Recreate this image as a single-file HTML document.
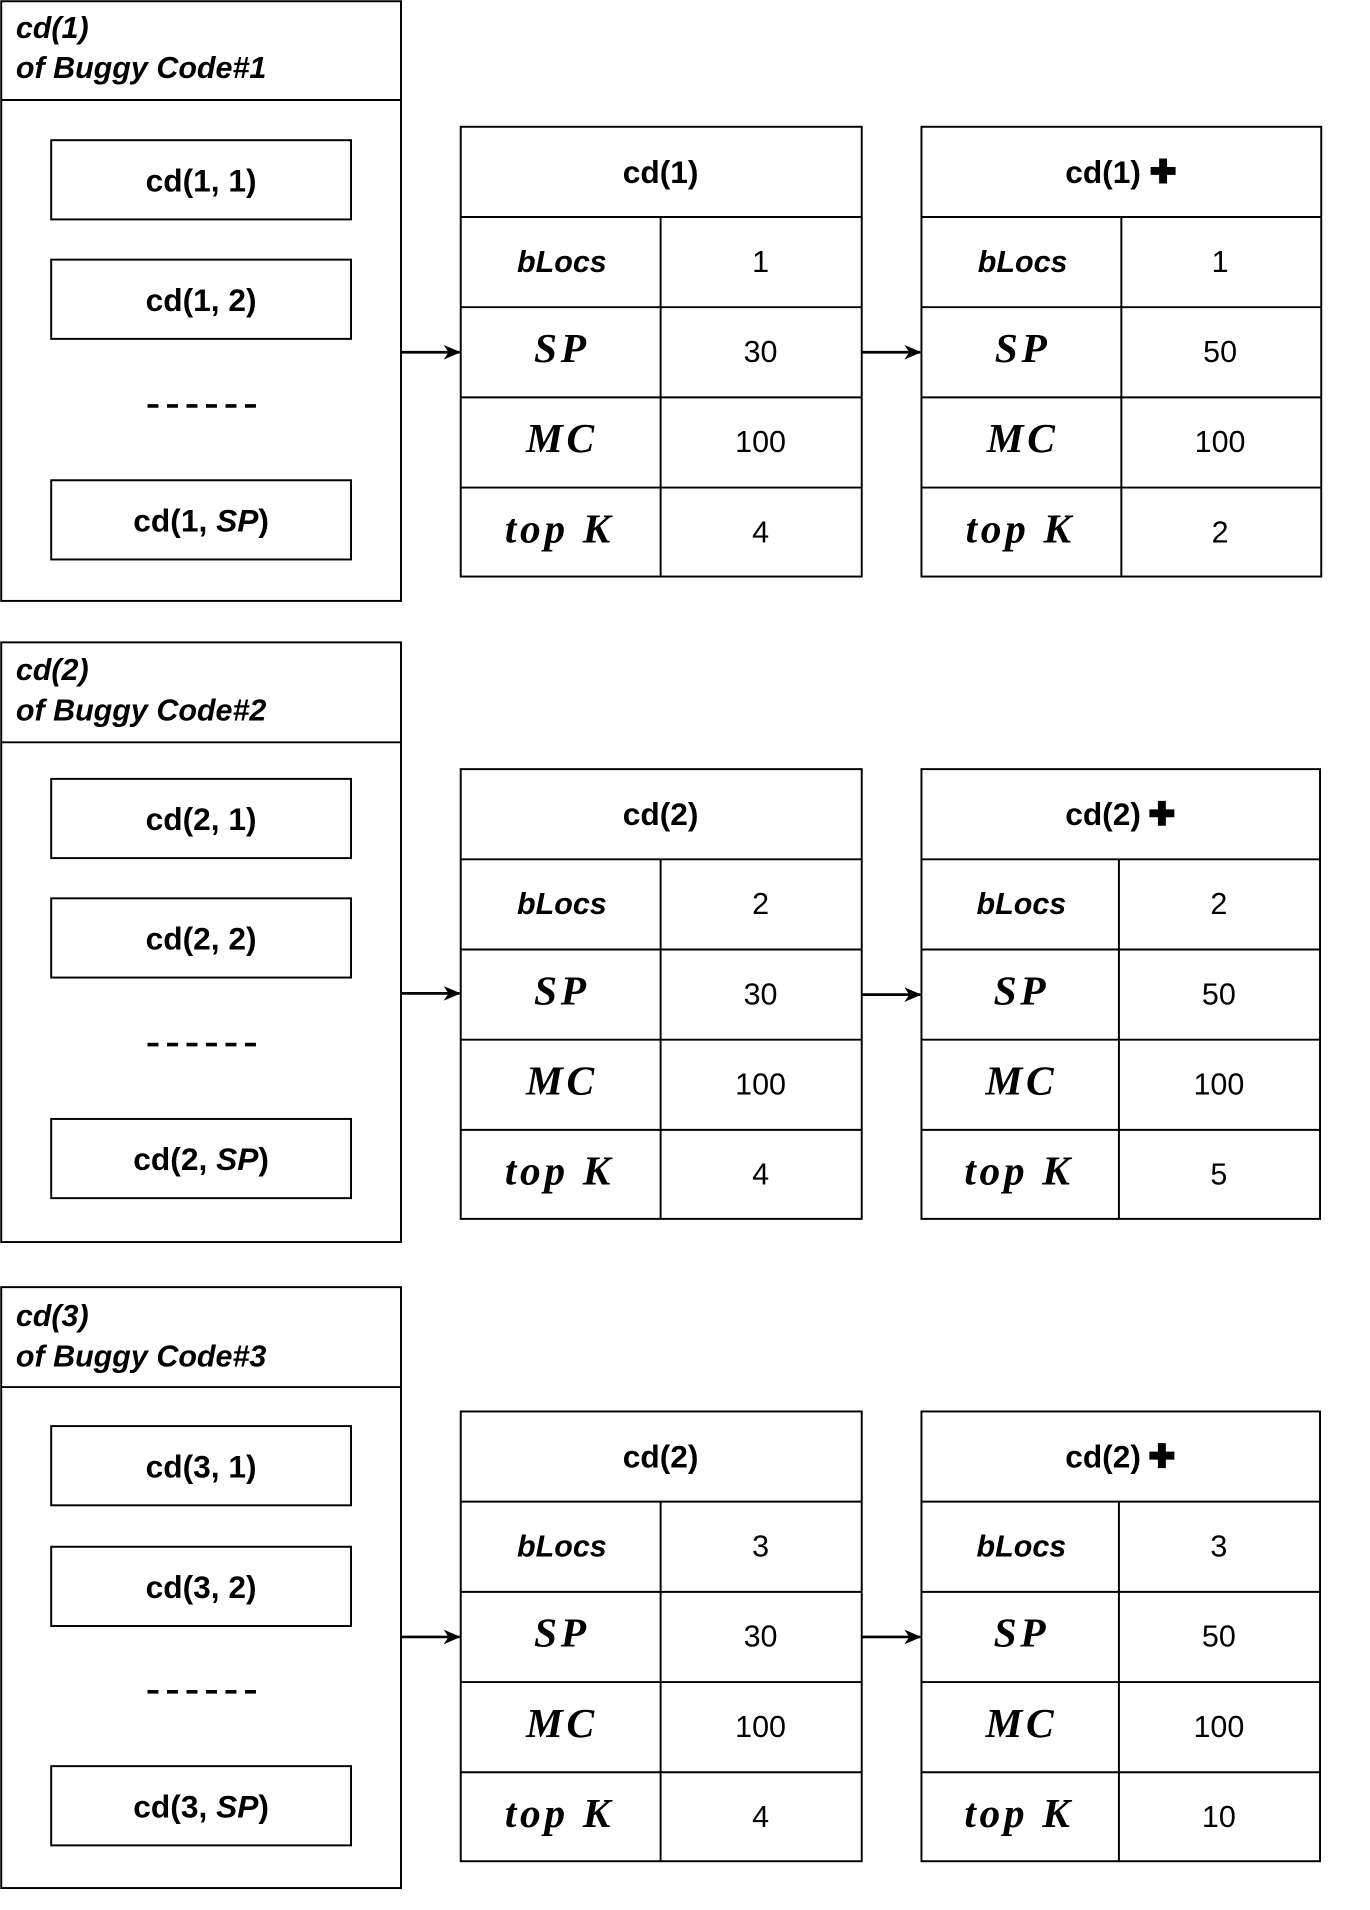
<!DOCTYPE html>
<html><head><meta charset="utf-8"><style>
html,body{margin:0;padding:0;background:#fff;}
svg{display:block;}
.b{font-family:"Liberation Sans",sans-serif;font-weight:bold;font-size:26px;}
.bi{font-family:"Liberation Sans",sans-serif;font-weight:bold;font-style:italic;font-size:25px;}
.r{font-family:"Liberation Sans",sans-serif;font-size:25px;}
.m{font-family:"Liberation Serif",serif;font-weight:bold;font-style:italic;font-size:34px;letter-spacing:3px;}
</style></head><body>
<svg width="1370" height="1910" viewBox="0 0 1124 1567" xmlns="http://www.w3.org/2000/svg">
<defs>
<marker id="a" markerWidth="14" markerHeight="12" refX="13" refY="6" orient="auto" markerUnits="userSpaceOnUse">
<path d="M0,0 L14,6 L0,12 L4,6 Z" fill="#000"/>
</marker>
</defs>
<g fill="none" stroke="#000" stroke-width="1.6">
<rect x="1" y="1" width="328" height="492"/><line x1="1" y1="82" x2="329" y2="82"/>
<rect x="42" y="115" width="246" height="65"/><rect x="42" y="213" width="246" height="65"/><rect x="42" y="394" width="246" height="65"/>
<rect x="1" y="527" width="328" height="492"/><line x1="1" y1="609" x2="329" y2="609"/>
<rect x="42" y="639" width="246" height="65"/><rect x="42" y="737" width="246" height="65"/><rect x="42" y="918" width="246" height="65"/>
<rect x="1" y="1056" width="328" height="493"/><line x1="1" y1="1138" x2="329" y2="1138"/>
<rect x="42" y="1170" width="246" height="65"/><rect x="42" y="1269" width="246" height="65"/><rect x="42" y="1449" width="246" height="65"/>
<rect x="378" y="104" width="329" height="369"/>
<path d="M378 178H707M378 252H707M378 326H707M378 400H707M542 178V473"/>
<rect x="756" y="104" width="328" height="369"/>
<path d="M756 178H1084M756 252H1084M756 326H1084M756 400H1084M920 178V473"/>
<rect x="378" y="631" width="329" height="369"/>
<path d="M378 705H707M378 779H707M378 853H707M378 927H707M542 705V1000"/>
<rect x="756" y="631" width="327" height="369"/>
<path d="M756 705H1083M756 779H1083M756 853H1083M756 927H1083M918 705V1000"/>
<rect x="378" y="1158" width="329" height="369"/>
<path d="M378 1232H707M378 1306H707M378 1380H707M378 1454H707M542 1232V1527"/>
<rect x="756" y="1158" width="327" height="369"/>
<path d="M756 1232H1083M756 1306H1083M756 1380H1083M756 1454H1083M918 1232V1527"/>
<g stroke-width="2.2">
<line x1="329" y1="289" x2="377" y2="289" marker-end="url(#a)"/>
<line x1="707" y1="289" x2="755" y2="289" marker-end="url(#a)"/>
<line x1="329" y1="815" x2="377" y2="815" marker-end="url(#a)"/>
<line x1="707" y1="816" x2="755" y2="816" marker-end="url(#a)"/>
<line x1="329" y1="1343" x2="377" y2="1343" marker-end="url(#a)"/>
<line x1="707" y1="1343" x2="755" y2="1343" marker-end="url(#a)"/>
</g>
</g>
<g fill="#000">
<text class="bi" x="13" y="31">cd(1)</text><text class="bi" x="13" y="64">of Buggy Code#1</text>
<text class="bi" x="13" y="558">cd(2)</text><text class="bi" x="13" y="591">of Buggy Code#2</text>
<text class="bi" x="13" y="1088">cd(3)</text><text class="bi" x="13" y="1121">of Buggy Code#3</text>
<g class="b" text-anchor="middle">
<text x="165" y="157">cd(1, 1)</text><text x="165" y="255">cd(1, 2)</text><text x="165" y="436">cd(1, <tspan font-style="italic">SP</tspan>)</text>
<text x="165" y="681">cd(2, 1)</text><text x="165" y="779">cd(2, 2)</text><text x="165" y="960">cd(2, <tspan font-style="italic">SP</tspan>)</text>
<text x="165" y="1212">cd(3, 1)</text><text x="165" y="1311">cd(3, 2)</text><text x="165" y="1491">cd(3, <tspan font-style="italic">SP</tspan>)</text>
<text x="542" y="150">cd(1)</text><text x="905" y="150">cd(1)</text>
<text x="542" y="677">cd(2)</text><text x="905" y="677">cd(2)</text>
<text x="542" y="1204">cd(2)</text><text x="905" y="1204">cd(2)</text>
</g>
<path d="M951 130h6.5v7h7v6.5h-7v7h-6.5v-7h-7v-6.5h7z"/>
<path d="M950 657h6.5v7h7v6.5h-7v7h-6.5v-7h-7v-6.5h7z"/>
<path d="M950 1184h6.5v7h7v6.5h-7v7h-6.5v-7h-7v-6.5h7z"/>
<g stroke="#000" stroke-width="3" stroke-dasharray="9,7">
<line x1="121" y1="333" x2="212" y2="333"/><line x1="121" y1="857" x2="212" y2="857"/><line x1="121" y1="1388" x2="212" y2="1388"/>
</g>
<g text-anchor="middle">
<text class="bi" x="461" y="223">bLocs</text><text class="m" x="461" y="297">SP</text><text class="m" x="461" y="371">MC</text><text class="m" x="459" y="445">top K</text>
<text class="r" x="624" y="223">1</text><text class="r" x="624" y="297">30</text><text class="r" x="624" y="371">100</text><text class="r" x="624" y="445">4</text>
<text class="bi" x="839" y="223">bLocs</text><text class="m" x="839" y="297">SP</text><text class="m" x="839" y="371">MC</text><text class="m" x="837" y="445">top K</text>
<text class="r" x="1001" y="223">1</text><text class="r" x="1001" y="297">50</text><text class="r" x="1001" y="371">100</text><text class="r" x="1001" y="445">2</text>
<text class="bi" x="461" y="750">bLocs</text><text class="m" x="461" y="824">SP</text><text class="m" x="461" y="898">MC</text><text class="m" x="459" y="972">top K</text>
<text class="r" x="624" y="750">2</text><text class="r" x="624" y="824">30</text><text class="r" x="624" y="898">100</text><text class="r" x="624" y="972">4</text>
<text class="bi" x="838" y="750">bLocs</text><text class="m" x="838" y="824">SP</text><text class="m" x="838" y="898">MC</text><text class="m" x="836" y="972">top K</text>
<text class="r" x="1000" y="750">2</text><text class="r" x="1000" y="824">50</text><text class="r" x="1000" y="898">100</text><text class="r" x="1000" y="972">5</text>
<text class="bi" x="461" y="1277">bLocs</text><text class="m" x="461" y="1351">SP</text><text class="m" x="461" y="1425">MC</text><text class="m" x="459" y="1499">top K</text>
<text class="r" x="624" y="1277">3</text><text class="r" x="624" y="1351">30</text><text class="r" x="624" y="1425">100</text><text class="r" x="624" y="1499">4</text>
<text class="bi" x="838" y="1277">bLocs</text><text class="m" x="838" y="1351">SP</text><text class="m" x="838" y="1425">MC</text><text class="m" x="836" y="1499">top K</text>
<text class="r" x="1000" y="1277">3</text><text class="r" x="1000" y="1351">50</text><text class="r" x="1000" y="1425">100</text><text class="r" x="1000" y="1499">10</text>
</g>
</g>
</svg>
</body></html>
